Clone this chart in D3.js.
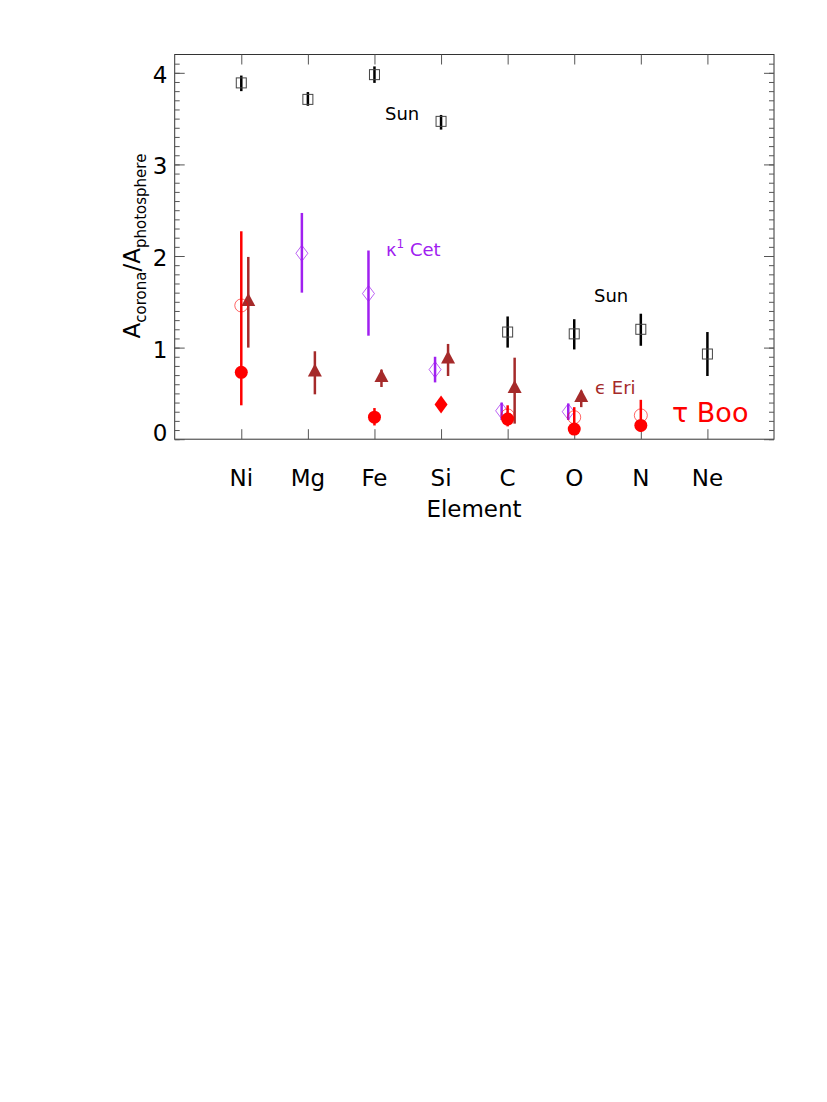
<!DOCTYPE html><html><head><meta charset="utf-8">
<script src="https://cdn.jsdelivr.net/npm/d3@7"></script>
<style>body{margin:0;background:#fff}text{font-family:"DejaVu Sans",sans-serif}</style></head><body>
<svg id="c" width="827" height="1102"></svg>
<script>
const elements=["Ni","Mg","Fe","Si","C","O","N","Ne"];
const yTicks=[0,1,2,3,4];
// [elementIndex, value, errLow, errHigh]
const sun=[[0,3.89,3.80,3.97],[1,3.71,3.64,3.79],[2,3.98,3.89,4.07],[3,3.47,3.38,3.54],[4,1.17,1.00,1.34],[5,1.15,0.98,1.31],[6,1.20,1.02,1.37],[7,0.93,0.69,1.17]];
const kapCet=[[1,2.03,1.60,2.47],[2,1.59,1.13,2.06],[3,0.76,0.62,0.90],[4,0.31,0.21,0.40],[5,0.30,0.21,0.39]];
const epsEri=[[0,1.51,1.00,1.99],[1,0.74,0.49,0.96],[2,0.68,0.57,0.76],[3,0.88,0.69,1.04],[4,0.56,0.17,0.89],[5,0.46,0.35,0.53]];
const tauBooFilled=[[0,0.73,0.37,2.27],[2,0.24,0.15,0.34],[4,0.22,0.14,0.37],[5,0.11,0.06,0.35],[6,0.15,0.08,0.43]];
const tauBooDiamond=[[3,0.38]];
const tauBooOpen=[[0,1.46],[4,0.26],[5,0.24],[6,0.26]];
const svg=d3.select("#c");
const L=174.7,R=774,T=54.5,B=439.2;
const x=d3.scaleLinear().domain([-1,8]).range([L,R]);
const y=d3.scaleLinear().domain([0,4.2]).range([B,T]);
const g=svg.append("g");
g.append("rect").attr("x",L).attr("y",T).attr("width",R-L).attr("height",B-T).attr("fill","none").attr("stroke","#333").attr("stroke-width",1);
const minor=d3.range(0,42).map(i=>i/10);
const idx=d3.range(0,8);
g.append("g").attr("transform",`translate(0,${B})`).call(d3.axisBottom(x).tickValues(idx).tickSize(-10).tickFormat(""));
g.append("g").attr("transform",`translate(0,${T})`).call(d3.axisTop(x).tickValues(idx).tickSize(-10).tickFormat(""));
g.append("g").attr("transform",`translate(${L},0)`).call(d3.axisLeft(y).tickValues(minor).tickSize(-5).tickFormat(""));
g.append("g").attr("transform",`translate(${L},0)`).call(d3.axisLeft(y).tickValues(yTicks).tickSize(-10).tickFormat(""));
g.append("g").attr("transform",`translate(${R},0)`).call(d3.axisRight(y).tickValues(minor).tickSize(-5).tickFormat(""));
g.append("g").attr("transform",`translate(${R},0)`).call(d3.axisRight(y).tickValues(yTicks).tickSize(-10).tickFormat(""));
g.selectAll(".domain").remove();
g.selectAll(".tick line").attr("stroke","#555");
svg.selectAll(".xl").data(elements).join("text").attr("x",(d,i)=>x(i)).attr("y",486).attr("text-anchor","middle").attr("font-size",23).text(d=>d);
svg.selectAll(".yl").data(yTicks).join("text").attr("x",160).attr("y",d=>d===0?y(d)+2:y(d)+10).attr("text-anchor","middle").attr("font-size",23).text(d=>d);
svg.append("text").attr("x",474).attr("y",517).attr("text-anchor","middle").attr("font-size",23).text("Element");
const yl=svg.append("text").attr("transform","translate(140,246) rotate(-90)").attr("text-anchor","middle").attr("font-size",23);
yl.append("tspan").text("A");yl.append("tspan").attr("font-size",15).attr("dy",6).text("corona");
yl.append("tspan").attr("dy",-6).text("/A");yl.append("tspan").attr("font-size",15).attr("dy",6).text("photosphere");
function err(data,off,col,w){svg.append("g").selectAll("line").data(data).join("line").attr("x1",d=>x(d[0])+off).attr("x2",d=>x(d[0])+off).attr("y1",d=>y(d[2])).attr("y2",d=>y(d[3])).attr("stroke",col).attr("stroke-width",w);}
const purple="#a020f0",brown="#a52a2a",red="#ff0000";
err(sun,0,"#000",2.5);
svg.append("g").selectAll("rect").data(sun).join("rect").attr("x",d=>x(d[0])-5).attr("y",d=>y(d[1])-5).attr("width",10).attr("height",10).attr("fill","none").attr("stroke","#444").attr("stroke-width",1);
err(kapCet,-6,purple,2.5);
svg.append("g").selectAll("path").data(kapCet).join("path").attr("transform",d=>`translate(${x(d[0])-6},${y(d[1])})`).attr("d","M0,-8L6,0L0,8L-6,0Z").attr("fill","none").attr("stroke",purple).attr("stroke-opacity",0.7).attr("stroke-width",1);
err(epsEri,7,brown,2.5);
svg.append("g").selectAll("path").data(epsEri).join("path").attr("transform",d=>`translate(${x(d[0])+7},${y(d[1])})`).attr("d","M0,-8L7,5L-7,5Z").attr("fill",brown);
err(tauBooFilled,0,red,2.5);
svg.append("g").selectAll("circle").data(tauBooOpen).join("circle").attr("cx",d=>x(d[0])).attr("cy",d=>y(d[1])).attr("r",6.5).attr("fill","none").attr("stroke",red).attr("stroke-opacity",0.6).attr("stroke-width",1);
svg.append("g").selectAll("circle").data(tauBooFilled).join("circle").attr("cx",d=>x(d[0])).attr("cy",d=>y(d[1])).attr("r",6.5).attr("fill",red);
svg.append("g").selectAll("path").data(tauBooDiamond).join("path").attr("transform",d=>`translate(${x(d[0])},${y(d[1])})`).attr("d","M0,-9L6.5,0L0,9L-6.5,0Z").attr("fill",red);
svg.append("text").attr("x",385).attr("y",120).attr("font-size",18).text("Sun");
svg.append("text").attr("x",594).attr("y",302).attr("font-size",18).text("Sun");
const kc=svg.append("text").attr("x",386).attr("y",256).attr("font-size",18).attr("fill",purple);
kc.append("tspan").text("κ");kc.append("tspan").attr("font-size",12).attr("dy",-8).text("1");kc.append("tspan").attr("dy",8).text(" Cet");
svg.append("text").attr("x",595).attr("y",394).attr("font-size",18).attr("fill",brown).text("ϵ Eri");
svg.append("text").attr("x",672).attr("y",422).attr("font-size",27).attr("fill",red).text("τ Boo");
</script></body></html>
